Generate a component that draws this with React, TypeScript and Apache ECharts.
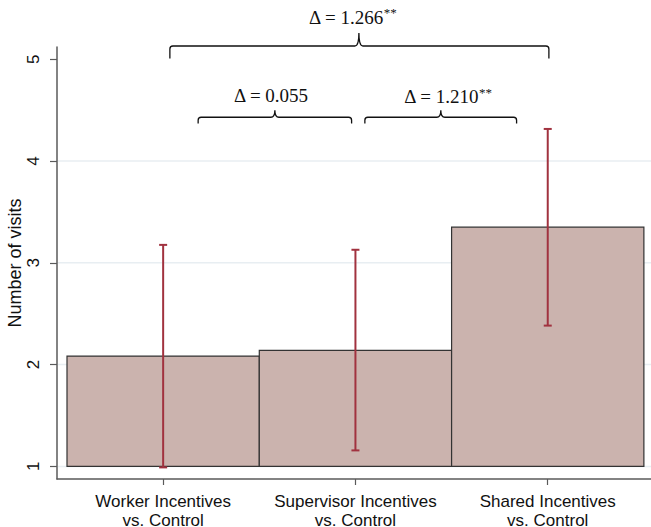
import React, { useEffect, useRef } from "react";
import * as echarts from "echarts";

// Treatment arms (x positions 1, 2, 3)
const categories = ["Worker Incentives\nvs. Control", "Supervisor Incentives\nvs. Control", "Shared Incentives\nvs. Control"];
const positions = [1, 2, 3];
const meanVisits = [2.084, 2.139, 3.35];
const ciLow = [0.99, 1.157, 2.383];
const ciHigh = [3.176, 3.128, 4.315];
const barBase = 1;

// y ticks and grid lines
const yTicks = [1, 2, 3, 4, 5];
const gridValues = [1, 2, 3, 4];

// Comparison braces: [left x, right x, centre x, end y, line y, peak y, label x, label y]
const braceLabels = ["Δ = 1.266", "Δ = 0.055", "Δ = 1.210"];
const braceStars = ["**", "", "**"];
const braces = [
  [1.035, 3.006, 2.018, 5.007, 5.13, 5.257, 1.985, 5.41],
  [1.182, 1.98, 1.581, 4.368, 4.43, 4.499, 1.561, 4.648],
  [2.049, 2.838, 2.444, 4.368, 4.43, 4.499, 2.481, 4.633],
];

const SANS = "Liberation Sans, Arial, sans-serif";
const SERIF = "Liberation Serif, serif";

export default function App() {
  const ref = useRef<HTMLDivElement>(null);

  useEffect(() => {
    if (!ref.current) return;
    const chart = echarts.init(ref.current, undefined, { renderer: "svg" });

    const barData = positions.map((p, i) => [p, meanVisits[i]]);
    const errData = positions.map((p, i) => [p, ciLow[i], ciHigh[i]]);
    const braceData = braces.map((b, i) => [...b, i]);

    const option: any = {
      animation: false,
      backgroundColor: "#ffffff",
      grid: { left: 57, right: 0, top: 47, bottom: 48, containLabel: false, outerBoundsMode: "none" },
      xAxis: {
        type: "value",
        min: 0.448,
        max: 3.537,
        splitLine: { show: false },
        axisLine: { show: true, onZero: false, lineStyle: { color: "#5a5a5a", width: 1.5 } },
        axisTick: { show: true, length: 6, customValues: positions, lineStyle: { color: "#5a5a5a", width: 1.2 } },
        axisLabel: {
          customValues: positions,
          formatter: (v: number) => categories[Math.round(v) - 1] ?? "",
          fontFamily: SANS,
          fontSize: 17,
          lineHeight: 19,
          color: "#111111",
          margin: 13,
        },
      },
      yAxis: {
        type: "value",
        min: 0.876,
        max: 5.12,
        name: "Number of visits",
        nameLocation: "middle",
        nameRotate: 90,
        nameGap: 33,
        nameMoveOverlap: false,
        nameTextStyle: { fontFamily: SANS, fontSize: 18, color: "#111111" },
        splitLine: { show: false },
        axisLine: { show: true, lineStyle: { color: "#5a5a5a", width: 1.5 } },
        axisTick: { show: true, length: 7, customValues: yTicks, lineStyle: { color: "#5a5a5a", width: 1.2 } },
        axisLabel: {
          customValues: yTicks,
          rotate: 90,
          margin: 15,
          fontFamily: SANS,
          fontSize: 17,
          color: "#111111",
        },
      },
      series: [
        {
          // light horizontal grid lines
          type: "custom",
          data: gridValues.map((v) => [v]),
          encode: { y: 0 },
          silent: true,
          z: 1,
          renderItem: (params: any, api: any) => {
            const v = api.value(0);
            const a = api.coord([0.448, v]);
            const b = api.coord([3.537, v]);
            return {
              type: "line",
              shape: { x1: a[0] + 1, y1: a[1], x2: b[0], y2: b[1] },
              style: { stroke: "#e8eef2", lineWidth: 1.5 },
            };
          },
        },
        {
          // bars rising from the baseline
          type: "custom",
          data: barData,
          encode: { x: 0, y: 1 },
          z: 2,
          renderItem: (params: any, api: any) => {
            const x = api.value(0);
            const v = api.value(1);
            const p0 = api.coord([x - 0.5, barBase]);
            const p1 = api.coord([x + 0.5, v]);
            return {
              type: "rect",
              shape: { x: p0[0], y: p1[1], width: p1[0] - p0[0], height: p0[1] - p1[1] },
              style: { fill: "#cbb3ae", stroke: "#333333", lineWidth: 1.2 },
            };
          },
        },
        {
          // confidence intervals
          type: "custom",
          data: errData,
          encode: { x: 0, y: [1, 2] },
          z: 3,
          renderItem: (params: any, api: any) => {
            const x = api.value(0);
            const lo = api.coord([x, api.value(1)]);
            const hi = api.coord([x, api.value(2)]);
            const style = { stroke: "#a1323f", lineWidth: 2 };
            const cap = 4;
            return {
              type: "group",
              children: [
                { type: "line", shape: { x1: lo[0], y1: lo[1], x2: hi[0], y2: hi[1] }, style },
                { type: "line", shape: { x1: lo[0] - cap, y1: lo[1], x2: lo[0] + cap, y2: lo[1] }, style },
                { type: "line", shape: { x1: hi[0] - cap, y1: hi[1], x2: hi[0] + cap, y2: hi[1] }, style },
              ],
            };
          },
        },
        {
          // curly braces with difference labels
          type: "custom",
          data: braceData,
          clip: false,
          z: 4,
          encode: { x: [0, 1], y: [3, 4] },
          renderItem: (params: any, api: any) => {
            const idx = api.value(8);
            const l = api.coord([api.value(0), api.value(4)]);
            const r = api.coord([api.value(1), api.value(4)]);
            const c = api.coord([api.value(2), api.value(5)]);
            const yEnd = api.coord([api.value(0), api.value(3)])[1];
            const t = api.coord([api.value(6), api.value(7)]);
            const yH = l[1];
            const rr = 3;
            const rp = 4;
            const d =
              `M${l[0]},${yEnd} L${l[0]},${yH + rr} Q${l[0]},${yH} ${l[0] + rr},${yH} ` +
              `L${c[0] - rp},${yH} Q${c[0]},${yH} ${c[0]},${c[1]} ` +
              `Q${c[0]},${yH} ${c[0] + rp},${yH} L${r[0] - rr},${yH} ` +
              `Q${r[0]},${yH} ${r[0]},${yH + rr} L${r[0]},${yEnd}`;
            const stars = braceStars[idx];
            return {
              type: "group",
              children: [
                {
                  type: "path",
                  shape: { pathData: d },
                  style: { fill: null, stroke: "#111111", lineWidth: 1.3 },
                },
                {
                  type: "text",
                  x: t[0],
                  y: t[1],
                  style: {
                    text: stars ? `{a|${braceLabels[idx]}}{s|${stars}}` : `{a|${braceLabels[idx]}}`,
                    align: "center",
                    verticalAlign: "middle",
                    rich: {
                      a: { fontFamily: SERIF, fontSize: 19, fill: "#111111", lineHeight: 22 },
                      s: { fontFamily: SERIF, fontSize: 13, fill: "#111111", verticalAlign: "top", lineHeight: 22, padding: [0, 0, 4, 0] },
                    },
                  },
                },
              ],
            };
          },
        },
      ],
    };

    chart.setOption(option);
    return () => chart.dispose();
  }, []);

  return <div ref={ref} style={{ position: "fixed", left: 0, top: 0, width: 651, height: 527 }} />;
}
